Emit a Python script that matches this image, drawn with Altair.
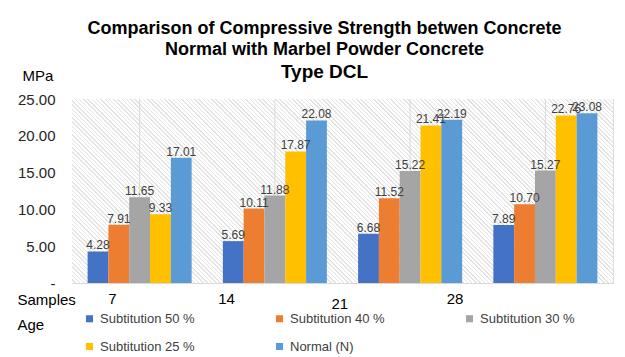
import altair as alt
import pandas as pd

# ---- data ----
ages = ["7", "14", "21", "28"]
series = ["Subtitution 50 %", "Subtitution 40 %", "Subtitution  30 %",
          "Subtitution  25 %", "Normal  (N)"]
sub50 = [4.28, 5.69, 6.68, 7.89]
sub40 = [7.91, 10.11, 11.52, 10.70]
sub30 = [11.65, 11.88, 15.22, 15.27]
sub25 = [9.33, 17.87, 21.41, 22.76]
normal = [17.01, 22.08, 22.19, 23.08]
colors = ["#4472C4", "#ED7D31", "#A5A5A5", "#FFC000", "#5B9BD5"]

rows = []
for name, vals in zip(series, [sub50, sub40, sub30, sub25, normal]):
    for a, v in zip(ages, vals):
        rows.append({"age": a, "series": name, "value": v})
df = pd.DataFrame(rows)

W, H = 541, 184
FONT = "Liberation Sans"

# hatch background built as a striped linear gradient (style only)
ratio = H / W
kk = (1 + ratio) / (1 + ratio * ratio)
x2g = kk
y2g = 1 - kk * ratio
n_periods = 170
stops = []
for i in range(n_periods):
    o = i / n_periods
    step = 1 / n_periods
    stops.append({"offset": o, "color": "#ffffff"})
    stops.append({"offset": o + step * 0.65, "color": "#ffffff"})
    stops.append({"offset": o + step * 0.65, "color": "#e4e4e4"})
    stops.append({"offset": o + step, "color": "#e4e4e4"})
hatch = alt.Gradient(gradient="linear", x1=0, y1=1, x2=x2g, y2=y2g, stops=stops)

bg = alt.Chart(pd.DataFrame({"a": [0]})).mark_rect(fill=hatch).encode(
    x=alt.value(0), x2=alt.value(W), y=alt.value(0), y2=alt.value(H)
)

xscale = alt.Scale(domain=ages, paddingInner=0, paddingOuter=0)

centers = alt.Chart(pd.DataFrame({"age": ages})).mark_rule(
    color="#d9d9d9", strokeWidth=1
).encode(
    x=alt.X("age:N", scale=xscale, sort=ages),
    y=alt.value(0), y2=alt.value(H)
)

# the source's category labels sit left of their groups (style offsets)
label_offset = {
    "condition": [
        {"test": "datum.value == '7'", "value": -23},
        {"test": "datum.value == '14'", "value": -40},
        {"test": "datum.value == '21'", "value": -62},
        {"test": "datum.value == '28'", "value": -82},
    ],
    "value": 0,
}
label_padding = {
    "condition": [{"test": "datum.value == '21'", "value": 20}],
    "value": 15,
}

base = alt.Chart(df).encode(
    x=alt.X("age:N", scale=xscale, sort=ages,
            axis=alt.Axis(title=["Samples", "Age"], labelAngle=0, domain=False,
                          ticks=False, grid=True, bandPosition=0,
                          gridColor="#d9d9d9", labelFontSize=15, labelFont=FONT,
                          labelColor="#000000", labelPadding=label_padding,
                          labelOffset=label_offset,
                          titleFont=FONT, titleFontSize=15, titleFontWeight="normal",
                          titleColor="#000000", titleAnchor="start", titleAlign="left",
                          titleX=-55, titleY=21, titleBaseline="alphabetic",
                          titleLineHeight=25)),
    xOffset=alt.XOffset("series:N", sort=series,
                        scale=alt.Scale(paddingInner=0, paddingOuter=0.75)),
    y=alt.Y("value:Q", scale=alt.Scale(domain=[0, 25], nice=False),
            axis=alt.Axis(title="MPa", values=[0, 5, 10, 15, 20, 25],
                          labelExpr="datum.value == 0 ? '-' : format(datum.value, '.2f')",
                          domain=False, ticks=False, gridColor="#d9d9d9",
                          labelFontSize=15, labelFont=FONT, labelColor="#262626",
                          labelPadding=17, titleAngle=0, titleX=-50, titleY=-24,
                          titleAlign="left", titleBaseline="middle", titleFont=FONT,
                          titleFontSize=15, titleFontWeight="normal",
                          titleColor="#000000")),
)

bars = base.mark_bar().encode(
    color=alt.Color("series:N", sort=series,
                    scale=alt.Scale(domain=series, range=colors),
                    legend=alt.Legend(title=None, orient="none", legendX=11,
                                      legendY=213, columns=3, direction="horizontal",
                                      symbolType="square",
                                      symbolSize=50, symbolStrokeWidth=0,
                                      labelFont=FONT, labelFontSize=13,
                                      labelColor="#404040", columnPadding=74,
                                      rowPadding=14, gridAlign="all", labelLimit=200))
)

labels = base.mark_text(baseline="alphabetic", dy=-2, fontSize=12, font=FONT,
                        color="#404040").encode(
    text=alt.Text("value:Q", format=".2f")
)

chart = alt.layer(bg, centers, bars, labels).properties(
    width=W, height=H,
    autosize=alt.AutoSizeParams(type="none"),
    padding={"left": 72, "top": 99, "right": 12, "bottom": 74},
    title=alt.TitleParams(
        text=["Comparison of Compressive Strength betwen Concrete",
              "Normal with Marbel Powder Concrete"],
        subtitle="Type DCL",
        anchor="middle", frame="group", dx=-18, dy=32, offset=18,
        font=FONT, fontSize=18, fontWeight="bold", color="#000000", lineHeight=21,
        subtitleFont=FONT, subtitleFontSize=19, subtitleFontWeight="bold",
        subtitleColor="#000000", subtitlePadding=4,
    ),
).configure_view(stroke="#d9d9d9", strokeWidth=1).configure(background="white")

chart.save("out.html", embed_options={"renderer": "svg", "actions": False})
